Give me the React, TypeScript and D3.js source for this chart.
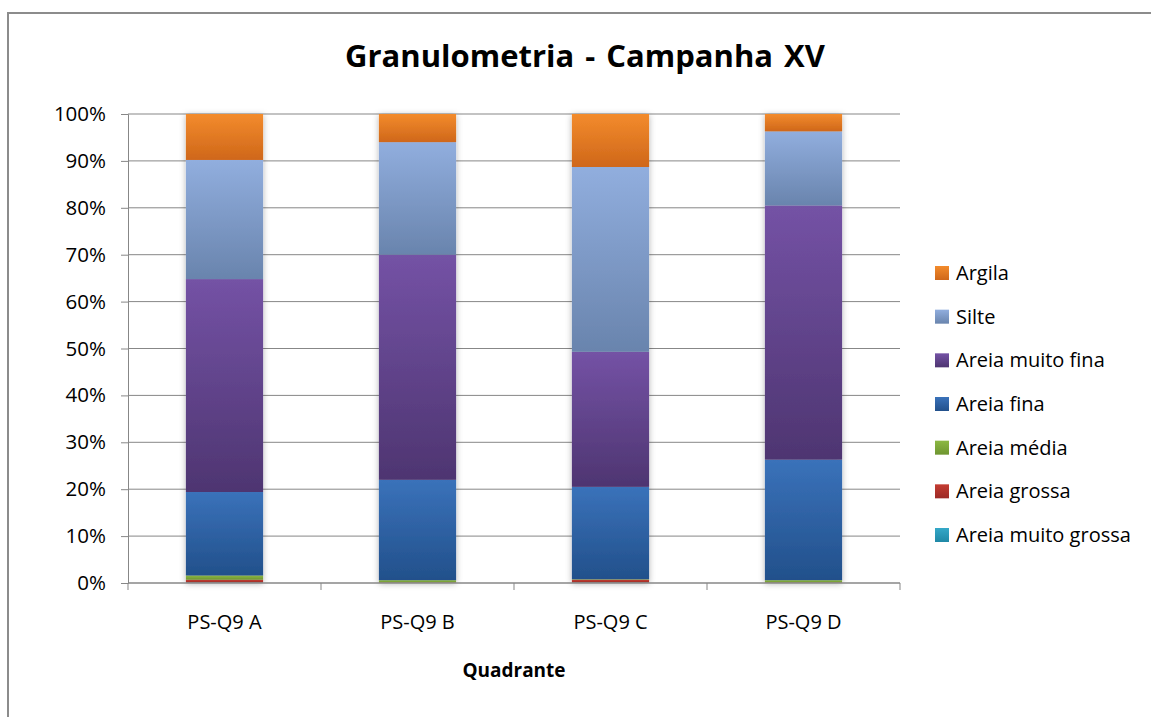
import { useEffect, useRef } from 'react'
import * as d3 from 'd3'

const categories = ['PS-Q9 A', 'PS-Q9 B', 'PS-Q9 C', 'PS-Q9 D']
// bottom to top stacking order
const seriesNames = ['Areia muito grossa', 'Areia grossa', 'Areia média', 'Areia fina', 'Areia muito fina', 'Silte', 'Argila']
const muitoGrossa = [0.1, 0.0, 0.1, 0.0]
const grossa = [0.6, 0.1, 0.6, 0.1]
const media = [0.9, 0.5, 0.1, 0.5]
const fina = [17.8, 21.4, 19.7, 25.7]
const muitoFina = [45.4, 48.0, 28.8, 54.2]
const silte = [25.4, 24.0, 39.4, 15.8]
const argila = [9.8, 6.0, 11.3, 3.7]
const yTicks = [0, 10, 20, 30, 40, 50, 60, 70, 80, 90, 100]

const colors: Record<string, [string, string]> = {
  'Areia muito grossa': ['#35a8c8', '#1f88a6'],
  'Areia grossa': ['#c43c32', '#9c2a26'],
  'Areia média': ['#8cb843', '#6e9530'],
  'Areia fina': ['#3a72ba', '#22508b'],
  'Areia muito fina': ['#7452a5', '#4e3571'],
  'Silte': ['#91aede', '#6984ad'],
  'Argila': ['#f38b2c', '#cf671a'],
}

const font = '"Open Sans", Lato, sans-serif'

export default function App() {
  const svgRef = useRef<SVGSVGElement>(null)

  useEffect(() => {
    if (!svgRef.current) return
    const svg = d3.select(svgRef.current)
    svg.selectAll('*').remove()

    const values = [muitoGrossa, grossa, media, fina, muitoFina, silte, argila]
    const table = categories.map((c, i) => {
      const row: any = { cat: c }
      seriesNames.forEach((s, k) => (row[s] = values[k][i]))
      return row
    })
    const stacked = d3.stack<any>().keys(seriesNames)(table)

    const left = 128, right = 900, top = 114, bottom = 583

    const x = d3.scaleBand().domain(categories).range([left, right]).paddingInner(0.6).paddingOuter(0.3)
    const y = d3.scaleLinear().domain([0, 100]).range([bottom, top])

    const defs = svg.append('defs')
    seriesNames.forEach((s, k) => {
      const g = defs.append('linearGradient').attr('id', `grad${k}`).attr('x1', 0).attr('y1', 0).attr('x2', 0).attr('y2', 1)
      g.append('stop').attr('offset', '0%').attr('stop-color', colors[s][0])
      g.append('stop').attr('offset', '100%').attr('stop-color', colors[s][1])
    })
    const f = defs.append('filter').attr('id', 'shadow').attr('x', '-20%').attr('y', '-5%').attr('width', '140%').attr('height', '110%')
    f.append('feDropShadow').attr('dx', 0).attr('dy', 1).attr('stdDeviation', 3).attr('flood-color', '#000').attr('flood-opacity', 0.3)

    // outer frame
    svg.append('rect').attr('x', 8).attr('y', 13).attr('width', 1160).attr('height', 720)
      .attr('fill', 'white').attr('stroke', '#8c8c8c').attr('stroke-width', 2)

    // gridlines
    svg.append('g').selectAll('line').data(yTicks.slice(1)).enter().append('line')
      .attr('x1', left).attr('x2', right)
      .attr('y1', d => y(d)).attr('y2', d => y(d))
      .attr('stroke', '#878787').attr('stroke-width', 1)

    // bars
    const bars = svg.append('g').attr('filter', 'url(#shadow)')
    stacked.forEach((layer, k) => {
      bars.selectAll(`.s${k}`).data(layer).enter().append('rect')
        .attr('x', (d: any) => x(d.data.cat)!)
        .attr('width', x.bandwidth())
        .attr('y', d => y(d[1]))
        .attr('height', d => Math.max(0, y(d[0]) - y(d[1])))
        .attr('fill', `url(#grad${k})`)
    })

    // y axis
    const yAxis = svg.append('g').attr('transform', `translate(${left},0)`)
      .call(d3.axisLeft(y).tickValues(yTicks).tickSize(7).tickPadding(15).tickFormat(d => `${d}%`))
    yAxis.select('.domain').attr('stroke', '#878787')
    yAxis.selectAll('.tick line').attr('stroke', '#878787')
    yAxis.selectAll('text').attr('font-family', font).attr('font-size', 20.5).attr('fill', '#000')

    // x axis
    svg.append('line').attr('x1', left).attr('x2', right).attr('y1', bottom).attr('y2', bottom)
      .attr('stroke', '#878787').attr('stroke-width', 1.5)
    const bounds = d3.range(categories.length + 1).map(i => left + i * (right - left) / categories.length)
    svg.append('g').selectAll('line').data(bounds).enter().append('line')
      .attr('x1', d => d).attr('x2', d => d).attr('y1', bottom).attr('y2', bottom + 7)
      .attr('stroke', '#878787')
    svg.append('g').selectAll('text').data(categories).enter().append('text')
      .attr('x', d => x(d)! + x.bandwidth() / 2).attr('y', 629)
      .attr('text-anchor', 'middle').attr('font-family', font).attr('font-size', 20).attr('fill', '#000')
      .text(d => d)

    svg.append('text').attr('x', (left + right) / 2).attr('y', 677).attr('text-anchor', 'middle')
      .attr('font-family', font).attr('font-size', 19).attr('font-weight', 'bold').text('Quadrante')

    svg.append('text').attr('x', 585).attr('y', 67).attr('text-anchor', 'middle')
      .attr('font-family', font).attr('font-size', 31).attr('font-weight', 'bold').attr('word-spacing', 3)
      .text('Granulometria - Campanha XV')

    // legend (top to bottom: Argila first)
    const legendItems = seriesNames.slice().reverse()
    const ly = d3.scalePoint().domain(legendItems).range([273, 535])
    const lg = svg.append('g')
    legendItems.forEach(s => {
      const k = seriesNames.indexOf(s)
      lg.append('rect').attr('x', 935).attr('y', ly(s)! - 7).attr('width', 14).attr('height', 14).attr('fill', `url(#grad${k})`)
      lg.append('text').attr('x', 956).attr('y', ly(s)! + 7).attr('font-family', font).attr('font-size', 20)
        .attr('fill', '#000').text(s)
    })
  }, [])

  return (
    <svg ref={svgRef} width={1151} height={717} style={{ position: 'absolute', left: 0, top: 0, background: 'white' }}></svg>
  )
}
